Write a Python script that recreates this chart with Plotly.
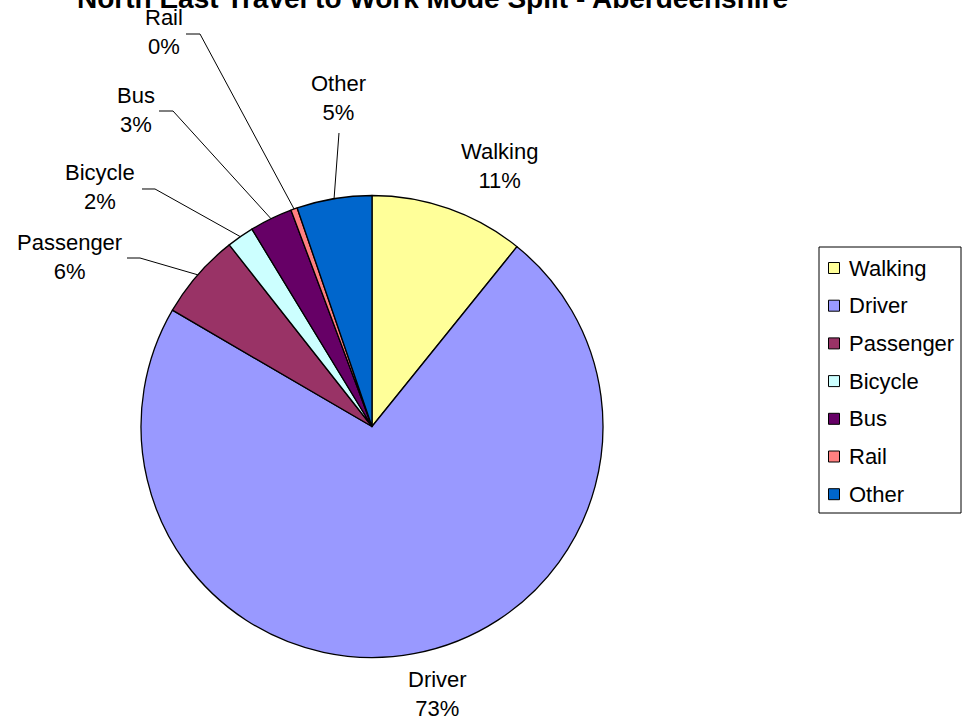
import math
import plotly.graph_objects as go

# ---- data ----
categories = ["Walking", "Driver", "Passenger", "Bicycle", "Bus", "Rail", "Other"]
shares = [10.8, 72.6, 6.0, 1.9, 3.0, 0.45, 5.25]
colors = ["#FFFF99", "#9999FF", "#993366", "#CCFFFF", "#660066", "#FF8080", "#0066CC"]
title_text = "North East Travel to Work Mode Split - Aberdeenshire"

# ---- layout constants (pixels) ----
W, H = 966, 723
CX, CY, R = 372.0, 426.5, 231.0
FONT = "Arial, Liberation Sans, Helvetica, sans-serif"
LABEL_SIZE = 22

# label text-block centres
label_pos = {
    "Walking": (499, 166), "Driver": (437, 694), "Passenger": (69, 257),
    "Bicycle": (100, 187), "Bus": (136, 110), "Rail": (164, 32), "Other": (338, 98),
}
# leader-line starting points (near label) before heading to the slice
leader_start = {
    "Passenger": [(127, 258), (140, 258)],
    "Bicycle": [(142, 189), (155, 189)],
    "Bus": [(159, 111), (173, 111)],
    "Rail": [(186, 34), (200, 34)],
    "Other": [(339, 133)],
}


def px(x):
    return x / W


def py(y):
    return 1 - y / H


fig = go.Figure(go.Pie(
    labels=categories, values=shares, sort=False, direction="clockwise", rotation=0,
    marker=dict(colors=colors, line=dict(color="black", width=1.3)),
    textinfo="none", hoverinfo="label+percent", showlegend=False,
    domain=dict(x=[(CX - R) / W, (CX + R) / W], y=[(H - CY - R) / H, (H - CY + R) / H]),
))

total = sum(shares)
annotations = []
shapes = []
cum = 0.0
for cat, v in zip(categories, shares):
    mid = (cum + v / 2) / total * 2 * math.pi
    cum += v
    ex = CX + R * math.sin(mid)
    ey = CY - R * math.cos(mid)
    lx, ly = label_pos[cat]
    pct = round(v / total * 100)
    annotations.append(dict(
        x=px(lx), y=py(ly), xref="paper", yref="paper", showarrow=False,
        text=f"{cat}<br>{pct}%", align="center", xanchor="center", yanchor="middle",
        font=dict(family=FONT, size=LABEL_SIZE, color="black"),
    ))
    if cat in leader_start:
        pts = leader_start[cat] + [(ex, ey)]
        path = "M " + " L ".join(f"{px(a):.5f},{py(b):.5f}" for a, b in pts)
        shapes.append(dict(type="path", xref="paper", yref="paper", path=path,
                           line=dict(color="black", width=1)))

# legend box
LX0, LY0, LX1, LY1 = 819, 247, 961, 513
shapes.append(dict(type="rect", xref="paper", yref="paper",
                   x0=px(LX0), x1=px(LX1), y0=py(LY1), y1=py(LY0),
                   line=dict(color="black", width=1), fillcolor="white"))
for i, (cat, col) in enumerate(zip(categories, colors)):
    yc = 268 + i * 37.7
    shapes.append(dict(type="rect", xref="paper", yref="paper",
                       x0=px(828.5), x1=px(839.5), y0=py(yc + 5.5), y1=py(yc - 5.5),
                       line=dict(color="black", width=1), fillcolor=col))
    annotations.append(dict(
        x=px(847), y=py(yc), xref="paper", yref="paper", showarrow=False,
        text=cat, xanchor="left", yanchor="middle",
        font=dict(family=FONT, size=LABEL_SIZE, color="black"),
    ))

# title (partly above the top edge, as in the reference)
annotations.append(dict(
    x=px(432), y=1.0, xref="paper", yref="paper", showarrow=False, yshift=2,
    text=f"<b>{title_text}</b>", xanchor="center", yanchor="middle",
    font=dict(family=FONT, size=28, color="black"),
))

fig.update_layout(
    width=W, height=H, margin=dict(l=0, r=0, t=0, b=0),
    paper_bgcolor="white", plot_bgcolor="white",
    annotations=annotations, shapes=shapes,
)

fig.write_html("out.html", config={"displayModeBar": False},
               post_script="document.body.style.margin='0px';")
